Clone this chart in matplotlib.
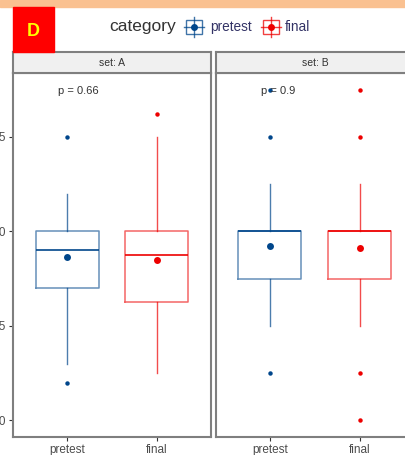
import matplotlib.pyplot as plt
from matplotlib.patches import Rectangle
from matplotlib.lines import Line2D

plt.rcParams['font.family'] = ['Liberation Sans', 'DejaVu Sans']

groups = ["pretest", "final"]
panels = ["set: A", "set: B"]
pvals = ["p = 0.66", "p = 0.9"]
colors = ["#00468B", "#ED0000"]

# box stats, one list per panel (pretest, final)
lo = [[1.5, 1.25], [2.5, 2.5]]
q1 = [[3.5, 3.12], [3.75, 3.75]]
med = [[4.5, 4.38], [5.0, 5.0]]
q3 = [[5.0, 5.0], [5.0, 5.0]]
hi = [[6.0, 7.5], [6.25, 6.25]]
means = [[4.32, 4.24], [4.6, 4.55]]
outliers = [[[7.5, 1.0], [8.1]],
            [[8.75, 7.5, 1.25], [8.75, 7.5, 1.25, 0.0]]]
yticks = [0.0, 2.5, 5.0, 7.5]

W, H = 406, 455
fig = plt.figure(figsize=(W / 100, H / 100), dpi=100)
fig.patches.append(Rectangle((0, 1 - 7 / H), 1, 7 / H, transform=fig.transFigure,
                             color="#FAC191", zorder=0))
fig.patches.append(Rectangle((13 / W, 1 - 52 / H), 41 / W, 45 / H,
                             transform=fig.transFigure, color="#FF0000", zorder=1))
fig.text(33.5 / W, 1 - 31 / H, "D", color="#FFFF00", fontsize=13, fontweight="bold",
         ha="center", va="center")

# legend
fig.text(109 / W, 1 - 27 / H, "category", fontsize=12.5, color="#333333", va="center")
lx = [194, 271]
tx = [210, 285]
for i, g in enumerate(groups):
    c = colors[i]
    x0, y0 = lx[i] / W, 1 - 27 / H
    fig.patches.append(Rectangle((x0 - 8 / W, y0 - 7 / H), 16 / W, 14 / H,
                                 transform=fig.transFigure, fill=False, ec=c,
                                 lw=1, alpha=0.75))
    fig.lines.append(Line2D([x0 - 10 / W, x0 + 10 / W], [y0, y0], transform=fig.transFigure,
                            color=c, lw=1, alpha=0.75))
    fig.lines.append(Line2D([x0, x0], [y0 - 10 / H, y0 + 10 / H], transform=fig.transFigure,
                            color=c, lw=1, alpha=0.75))
    fig.lines.append(Line2D([x0], [y0], transform=fig.transFigure, marker="o",
                            ms=5, color=c, mec="none"))
    fig.text(tx[i] / W, y0, g, fontsize=9.8, color="#333366", va="center")

lefts = [13, 216]
for p in range(2):
    ax = fig.add_axes([lefts[p] / W, 18 / H, 198 / W, (437 - 73) / H])
    stats = []
    for j in range(2):
        stats.append(dict(whislo=lo[p][j], q1=q1[p][j], med=med[p][j], q3=q3[p][j],
                          whishi=hi[p][j], fliers=[]))
    bp = ax.bxp(stats, positions=[1, 2], widths=0.7, showcaps=False, showfliers=False,
                patch_artist=False)
    for j in range(2):
        c = colors[j]
        bp["boxes"][j].set(color=c, lw=1.1, alpha=0.6)
        bp["medians"][j].set(color=c, lw=1.4, alpha=0.85)
        for w in bp["whiskers"][2 * j:2 * j + 2]:
            w.set(color=c, lw=1.0, alpha=0.7)
        ax.plot([j + 1] * len(outliers[p][j]), outliers[p][j], "o", color=c, ms=3.2,
                mec="none")
        ax.plot([j + 1], [means[p][j]], "o", color=c, ms=5.0, mec="none")
    ax.text(0.9, 8.7, pvals[p], fontsize=8, color="#333333", va="center", ha="left")
    ax.set_xlim(0.4, 2.6)
    ax.set_ylim(-0.4375, 9.1875)
    ax.set_yticks(yticks)
    ax.set_yticklabels(["%.1f" % v for v in yticks] if p == 0 else [])
    ax.set_xticks([1, 2])
    ax.set_xticklabels(groups)
    ax.tick_params(colors="#333333", labelcolor="#4D4D4D", labelsize=8.5, length=3,
                   width=0.8, pad=2)
    if p == 1:
        ax.tick_params(axis="y", length=0)
    for s in ax.spines.values():
        s.set_color("#7F7F7F")
        s.set_linewidth(1.5)
    # strip on top
    sx = fig.add_axes([lefts[p] / W, (H - 73) / H, 198 / W, 21 / H])
    sx.set_facecolor("#F0F0F0")
    sx.set_xticks([])
    sx.set_yticks([])
    for s in sx.spines.values():
        s.set_color("#7F7F7F")
        s.set_linewidth(1.5)
    sx.text(0.5, 0.5, panels[p], transform=sx.transAxes, ha="center", va="center",
            fontsize=7.5, color="#333333")

fig.savefig("out.png", dpi=100)
